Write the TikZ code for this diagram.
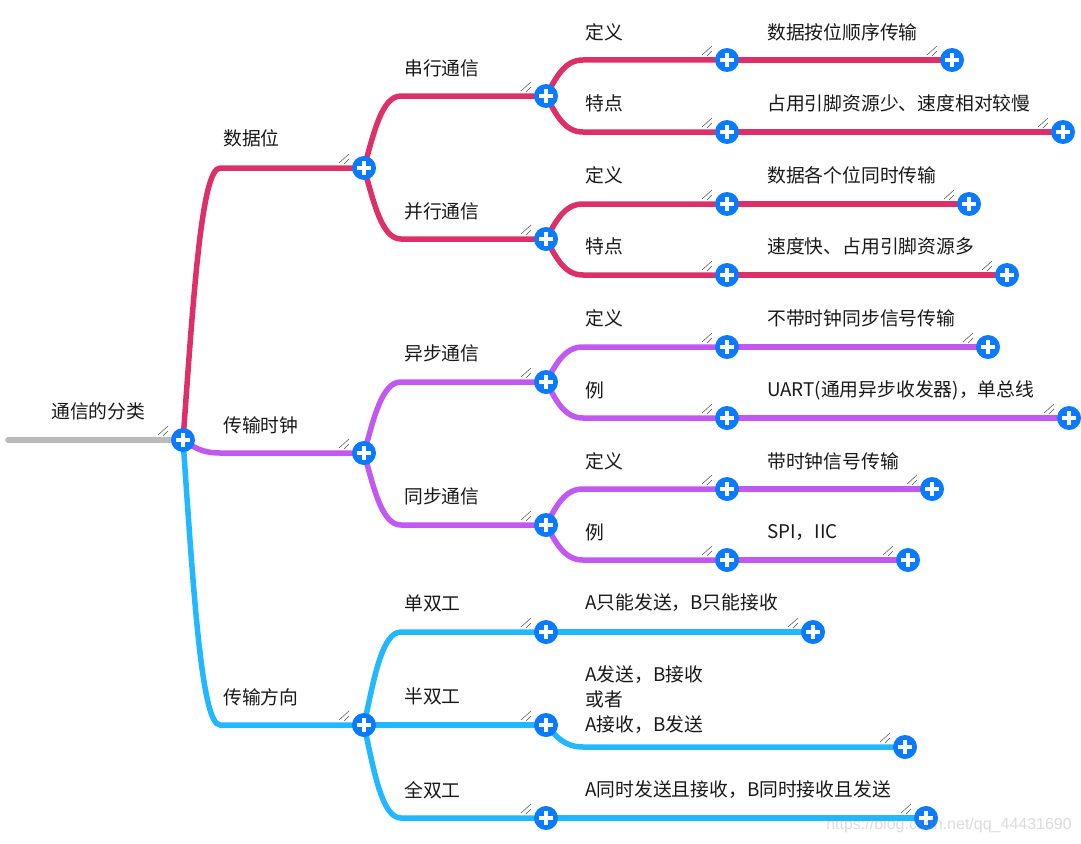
\documentclass[tikz,border=0pt]{standalone}
\usepackage{fontspec}
\setmainfont{Noto Sans CJK SC}
\newfontfamily\markfont{Liberation Sans}
\usetikzlibrary{calc,backgrounds}

\definecolor{linkred}{HTML}{DE3068}
\definecolor{linkpurple}{HTML}{C159F0}
\definecolor{linkblue}{HTML}{22B8FF}
\definecolor{linkgrey}{HTML}{BBBBBB}
\definecolor{btnblue}{HTML}{0A7BFF}

\tikzset{
  plusbtn/.style={circle, fill=btnblue, minimum size=24pt, inner sep=0pt,
    path picture={\draw[white, line width=3.5pt]
      (path picture bounding box.center) +(-7,0) -- +(7,0) +(0,-7) -- +(0,7);}},
  lbl/.style={anchor=west, inner sep=0pt, text=black!90,
    font=\fontsize{18.8}{25}\selectfont, align=left},
  linkline/.style={line width=5.5pt, line cap=round},
  hatchline/.style={line width=0.5pt, black!70}
}

\begin{document}
\begin{tikzpicture}[x=1pt, y=-1pt]
  \useasboundingbox (0,0) rectangle (1081,843);

  % Buttons, by level
  \coordinate (start) at (8,440);
  \foreach \name/\x/\y in {root/183/440,
      dataBit/364/168, clock/364/453, direction/364/725,
      serial/546/96, parallel/546/239, async/546/382, sync/546/525,
      simplex/546/632, halfDuplex/546/725, fullDuplex/546/818,
      serialDef/727/60, serialFeat/727/132, parallelDef/727/204, parallelFeat/727/275,
      asyncDef/727/347, asyncEx/727/418, syncDef/727/489, syncEx/727/560,
      serialDefEnd/952/60, serialFeatEnd/1063/132,
      parallelDefEnd/969/204, parallelFeatEnd/1007/275,
      asyncDefEnd/988/347, asyncExEnd/1069/418,
      syncDefEnd/932/489, syncExEnd/908/560,
      simplexEnd/813/632, halfDuplexEnd/905/747, fullDuplexEnd/926/818} {
    \node[plusbtn] (\name) at (\x,\y) {};
    \draw[hatchline] ($(\name)+(-25,-5)$) -- ($(\name)+(-15,-14)$);
    \draw[hatchline] ($(\name)+(-20,-4)$) -- ($(\name)+(-15,-9)$);
  }

  % Connectors go under the buttons
  \begin{scope}[on background layer]
    \fill[white] (0,0) rectangle (1081,843);
    \draw[linkline, linkgrey] (start) -- (root.center);

    \foreach \parent/\child/\col in {root/dataBit/linkred, root/clock/linkpurple, root/direction/linkblue,
        dataBit/serial/linkred, dataBit/parallel/linkred,
        serial/serialDef/linkred, serial/serialFeat/linkred,
        parallel/parallelDef/linkred, parallel/parallelFeat/linkred,
        serialDef/serialDefEnd/linkred, serialFeat/serialFeatEnd/linkred,
        parallelDef/parallelDefEnd/linkred, parallelFeat/parallelFeatEnd/linkred,
        clock/async/linkpurple, clock/sync/linkpurple,
        async/asyncDef/linkpurple, async/asyncEx/linkpurple,
        sync/syncDef/linkpurple, sync/syncEx/linkpurple,
        asyncDef/asyncDefEnd/linkpurple, asyncEx/asyncExEnd/linkpurple,
        syncDef/syncDefEnd/linkpurple, syncEx/syncExEnd/linkpurple,
        direction/simplex/linkblue, direction/halfDuplex/linkblue, direction/fullDuplex/linkblue,
        simplex/simplexEnd/linkblue, halfDuplex/halfDuplexEnd/linkblue, fullDuplex/fullDuplexEnd/linkblue} {
      \draw[linkline, \col] (\parent.center)
        .. controls ($(\parent)!.5!(\parent |- \child)+(10,0)$) and ($(\parent |- \child)+(18,0)$)
        .. ($(\parent |- \child)+(37,0)$) -- (\child.center);
    }
  \end{scope}

  % Labels
  \node[lbl] (rootText) at (51,411) {通信的分类};
  \node[lbl] (dataBitText) at (223,138) {数据位};
  \node[lbl] (clockText) at (223,425) {传输时钟};
  \node[lbl] (directionText) at (223,697) {传输方向};
  \node[lbl] (serialText) at (404,68) {串行通信};
  \node[lbl] (parallelText) at (404,211) {并行通信};
  \node[lbl] (asyncText) at (404,353) {异步通信};
  \node[lbl] (syncText) at (404,496) {同步通信};
  \node[lbl] (simplexText) at (404,603) {单双工};
  \node[lbl] (halfDuplexText) at (404,696) {半双工};
  \node[lbl] (fullDuplexText) at (404,790) {全双工};

  \node[lbl] (serialDefText) at (585,32) {定义};
  \node[lbl] (serialFeatText) at (585,103) {特点};
  \node[lbl] (parallelDefText) at (585,175) {定义};
  \node[lbl] (parallelFeatText) at (585,246) {特点};
  \node[lbl] (asyncDefText) at (585,318) {定义};
  \node[lbl] (asyncExText) at (585,390) {例};
  \node[lbl] (syncDefText) at (585,461) {定义};
  \node[lbl] (syncExText) at (585,532) {例};

  \node[lbl] (serialDefEndText) at (767,32) {数据按位顺序传输};
  \node[lbl] (serialFeatEndText) at (767,103) {占用引脚资源少、速度相对较慢};
  \node[lbl] (parallelDefEndText) at (767,175) {数据各个位同时传输};
  \node[lbl] (parallelFeatEndText) at (767,246) {速度快、占用引脚资源多};
  \node[lbl] (asyncDefEndText) at (767,318) {不带时钟同步信号传输};
  \node[lbl] (asyncExEndText) at (767,390) {UART(通用异步收发器)，单总线};
  \node[lbl] (syncDefEndText) at (767,461) {带时钟信号传输};
  \node[lbl] (syncExEndText) at (767,532) {SPI，IIC};

  \node[lbl] (simplexEndText) at (585,603) {A只能发送，B只能接收};
  \node[lbl] (halfDuplexEndText) at (585,700) {A发送，B接收\\或者\\A接收，B发送};
  \node[lbl] (fullDuplexEndText) at (585,790) {A同时发送且接收，B同时接收且发送};

  % Watermark over everything
  \node[anchor=east, inner sep=0pt, text=black!45, opacity=.3,
    font=\markfont\fontsize{16}{20}\selectfont] (watermark) at (1072,825) {https://blog.csdn.net/qq\_44431690};
\end{tikzpicture}
\end{document}
